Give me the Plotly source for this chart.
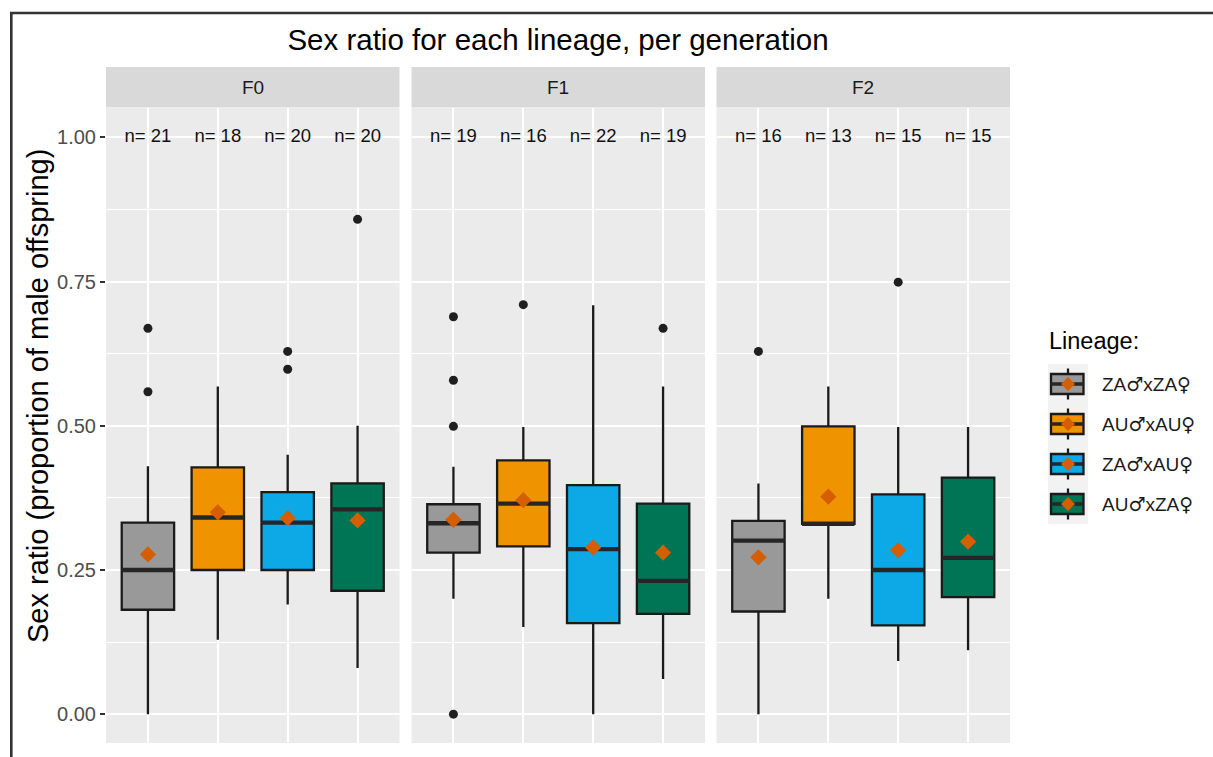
import plotly.graph_objects as go

# ---------------- data ----------------
generations = ["F0", "F1", "F2"]
lineages = ["ZA♂xZA♀", "AU♂xAU♀", "ZA♂xAU♀", "AU♂xZA♀"]
fill_colors = ["#999999", "#F09300", "#0DA9E6", "#007556"]

# per generation: values for the 4 lineages
q1_vals = {
    "F0": [0.181, 0.25, 0.25, 0.214],
    "F1": [0.280, 0.291, 0.158, 0.174],
    "F2": [0.178, 0.330, 0.154, 0.203],
}
median_vals = {
    "F0": [0.25, 0.341, 0.332, 0.355],
    "F1": [0.331, 0.365, 0.286, 0.231],
    "F2": [0.301, 0.330, 0.25, 0.271],
}
q3_vals = {
    "F0": [0.332, 0.428, 0.385, 0.400],
    "F1": [0.364, 0.440, 0.397, 0.365],
    "F2": [0.335, 0.499, 0.381, 0.410],
}
lower_vals = {
    "F0": [0.0, 0.129, 0.19, 0.08],
    "F1": [0.20, 0.151, 0.0, 0.061],
    "F2": [0.0, 0.20, 0.092, 0.111],
}
upper_vals = {
    "F0": [0.430, 0.568, 0.45, 0.50],
    "F1": [0.429, 0.498, 0.709, 0.568],
    "F2": [0.40, 0.568, 0.498, 0.498],
}
mean_vals = {
    "F0": [0.277, 0.35, 0.34, 0.336],
    "F1": [0.337, 0.371, 0.289, 0.28],
    "F2": [0.272, 0.377, 0.284, 0.299],
}
n_vals = {
    "F0": [21, 18, 20, 20],
    "F1": [19, 16, 22, 19],
    "F2": [16, 13, 15, 15],
}
outlier_vals = {
    "F0": [[0.669, 0.559], [], [0.629, 0.598], [0.858]],
    "F1": [[0.689, 0.579, 0.499, 0.0], [0.71], [], [0.669]],
    "F2": [[0.629], [], [0.749], []],
}
y_ticks = [0.0, 0.25, 0.50, 0.75, 1.00]
y_tick_labels = ["0.00", "0.25", "0.50", "0.75", "1.00"]
y_minor_ticks = [0.125, 0.375, 0.625, 0.875]

# ---------------- layout geometry ----------------
W, H = 1213, 757
L, R, T, B = 106, 203, 108, 14
PW, PH = W - L - R, H - T - B
FONT = "Liberation Sans, Arial, sans-serif"
SYM_FONT = "DejaVu Sans"
BOX_W = 0.75
LINE_C = "#1A1A1A"


def px2x(px):
    return (px - L) / PW


def px2y(py):
    return (H - B - py) / PH


def sym_label(s):
    out = ""
    for ch in s:
        if ch in "♂♀":
            out += f'<span style="font-family:{SYM_FONT}">{ch}</span>'
        else:
            out += ch
    return out


domains = [
    [0.0, px2x(399.5)],
    [px2x(411.5), px2x(705.0)],
    [px2x(716.5), 1.0],
]
xaxis_ids = ["x", "x2", "x3"]

fig = go.Figure()

for g, gen in enumerate(generations):
    xa = xaxis_ids[g]
    for j, lin in enumerate(lineages):
        fig.add_trace(go.Box(
            x=[j],
            q1=[q1_vals[gen][j]],
            median=[median_vals[gen][j]],
            q3=[q3_vals[gen][j]],
            lowerfence=[lower_vals[gen][j]],
            upperfence=[upper_vals[gen][j]],
            width=BOX_W,
            whiskerwidth=0,
            fillcolor=fill_colors[j],
            line=dict(color=LINE_C, width=2.3),
            boxpoints=False,
            name=lin,
            showlegend=False,
            xaxis=xa, yaxis="y",
            hoverinfo="skip",
        ))
    # thicker median lines (ggplot fatten)
    mx, my = [], []
    for j in range(len(lineages)):
        mx += [j - BOX_W / 2, j + BOX_W / 2, None]
        my += [median_vals[gen][j], median_vals[gen][j], None]
    fig.add_trace(go.Scatter(
        x=mx, y=my, mode="lines",
        line=dict(color="#262626", width=4.3),
        showlegend=False, xaxis=xa, yaxis="y", hoverinfo="skip",
    ))
    # outliers
    ox, oy = [], []
    for j in range(len(lineages)):
        for v in outlier_vals[gen][j]:
            ox.append(j)
            oy.append(v)
    fig.add_trace(go.Scatter(
        x=ox, y=oy, mode="markers",
        marker=dict(symbol="circle", size=9, color="#1F1F1F"),
        showlegend=False, xaxis=xa, yaxis="y", cliponaxis=False,
    ))
    # means
    fig.add_trace(go.Scatter(
        x=list(range(len(lineages))), y=mean_vals[gen], mode="markers",
        marker=dict(symbol="diamond", size=12.5, color="#D55E00"),
        showlegend=False, xaxis=xa, yaxis="y",
    ))
    # n labels
    fig.add_trace(go.Scatter(
        x=list(range(len(lineages))), y=[1.0] * len(lineages), mode="text",
        text=[f"n= {n}" for n in n_vals[gen]],
        textposition="middle center",
        textfont=dict(family=FONT, size=18.5, color="#111111"),
        showlegend=False, xaxis=xa, yaxis="y", cliponaxis=False,
    ))

shapes = []
annotations = []

# facet strips
for g, gen in enumerate(generations):
    d0, d1 = domains[g]
    shapes.append(dict(type="rect", xref="paper", yref="paper",
                       x0=d0, x1=d1, y0=px2y(107.5), y1=px2y(67),
                       fillcolor="#D9D9D9", line=dict(width=0), layer="below"))
    annotations.append(dict(xref="paper", yref="paper", x=(d0 + d1) / 2,
                            y=px2y(87), text=gen, showarrow=False,
                            xanchor="center", yanchor="middle",
                            font=dict(family=FONT, size=19, color="#1A1A1A")))

# y-axis title (centred on strip + panel area, as in the facetted original)
annotations.append(dict(xref="paper", yref="paper", x=px2x(38), y=px2y(396),
                        text="Sex ratio (proportion of male offspring)",
                        textangle=-90, showarrow=False,
                        xanchor="center", yanchor="middle",
                        font=dict(family=FONT, size=29, color="#000000")))

# outer frame
shapes.append(dict(type="rect", xref="paper", yref="paper",
                   x0=px2x(11.3), x1=px2x(1300), y0=px2y(820), y1=px2y(13),
                   line=dict(color="#333333", width=2.6), fillcolor="rgba(0,0,0,0)"))

# manual legend (ggplot style keys)
kx0, kx1 = 1048, 1088
kcx = (kx0 + kx1) / 2
shapes.append(dict(type="rect", xref="paper", yref="paper",
                   x0=px2x(kx0), x1=px2x(kx1), y0=px2y(524), y1=px2y(364),
                   fillcolor="#F2F2F2", line=dict(width=0)))
annotations.append(dict(xref="paper", yref="paper", x=px2x(1047), y=px2y(341),
                        text="Lineage:", showarrow=False, xanchor="left",
                        yanchor="middle",
                        font=dict(family=FONT, size=23.5, color="#000000")))
for j, lin in enumerate(lineages):
    cy = 384 + 40 * j
    shapes.append(dict(type="line", xref="paper", yref="paper",
                       x0=px2x(kcx), x1=px2x(kcx), y0=px2y(cy + 15.5), y1=px2y(cy - 15.5),
                       line=dict(color=LINE_C, width=2.3)))
    shapes.append(dict(type="rect", xref="paper", yref="paper",
                       x0=px2x(1051), x1=px2x(1083.5), y0=px2y(cy + 10), y1=px2y(cy - 10),
                       fillcolor=fill_colors[j], line=dict(color=LINE_C, width=2.3)))
    shapes.append(dict(type="line", xref="paper", yref="paper",
                       x0=px2x(1051), x1=px2x(1083.5), y0=px2y(cy), y1=px2y(cy),
                       line=dict(color="#262626", width=3.5)))
    dpath = (f"M {px2x(kcx)},{px2y(cy - 7)} L {px2x(kcx + 7)},{px2y(cy)} "
             f"L {px2x(kcx)},{px2y(cy + 7)} L {px2x(kcx - 7)},{px2y(cy)} Z")
    shapes.append(dict(type="path", xref="paper", yref="paper", path=dpath,
                       fillcolor="#D55E00", line=dict(width=0)))
    annotations.append(dict(xref="paper", yref="paper", x=px2x(1100), y=px2y(cy),
                            text=sym_label(lin), showarrow=False, xanchor="left",
                            yanchor="middle",
                            font=dict(family=FONT, size=19, color="#1A1A1A")))

layout = dict(
    width=W, height=H,
    margin=dict(l=L, r=R, t=T, b=B, pad=0),
    paper_bgcolor="white",
    plot_bgcolor="#EBEBEB",
    font=dict(family=FONT, color="#1A1A1A"),
    showlegend=False,
    title=dict(text="Sex ratio for each lineage, per generation",
               x=0.5, xref="paper", y=1 - 40 / H, yref="container",
               xanchor="center", yanchor="middle",
               font=dict(family=FONT, size=29.5, color="#000000")),
    yaxis=dict(
        domain=[0, 1], anchor="x",
        range=[-0.05, 1.051],
        tickmode="array", tickvals=y_ticks, ticktext=y_tick_labels,
        ticks="outside", ticklen=5, tickwidth=2.2, tickcolor="#333333",
        tickfont=dict(family=FONT, size=20, color="#4D4D4D"),
        showgrid=True, gridcolor="white", gridwidth=2,
        minor=dict(tickmode="array", tickvals=y_minor_ticks, showgrid=True,
                   gridcolor="white", gridwidth=1, ticks=""),
        zeroline=False, showline=False,
    ),
    shapes=shapes,
    annotations=annotations,
)
for g, xa in enumerate(xaxis_ids):
    key = "xaxis" if g == 0 else f"xaxis{g + 1}"
    layout[key] = dict(
        domain=domains[g], anchor="y",
        range=[-0.6, 3.6],
        tickmode="array", tickvals=list(range(len(lineages))),
        showticklabels=False, ticks="",
        showgrid=True, gridcolor="white", gridwidth=2,
        zeroline=False, showline=False,
    )

fig.update_layout(**layout)

fig.write_html(
    "out.html",
    config={"displayModeBar": False},
    post_script="document.body.style.margin='0';document.body.style.overflow='hidden';",
)
